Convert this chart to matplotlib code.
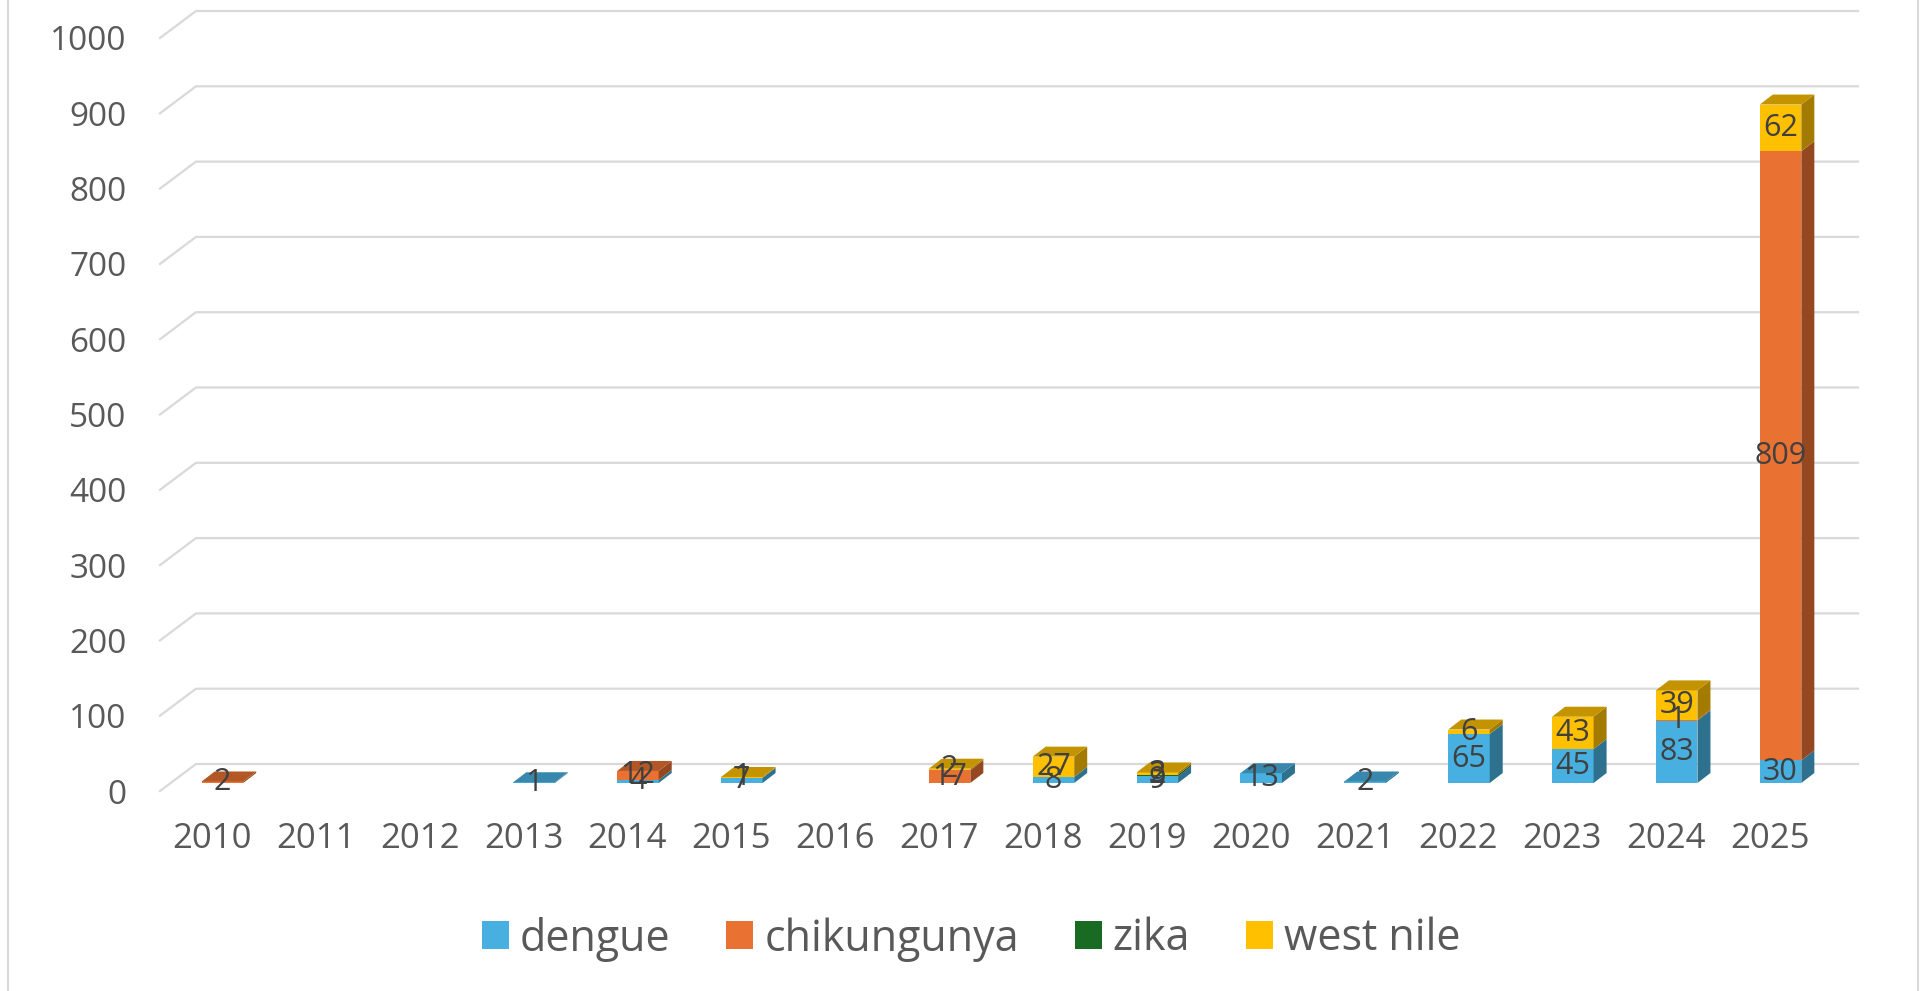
import numpy as np
import matplotlib
matplotlib.use("Agg")
import matplotlib.pyplot as plt
import matplotlib.colors as mcolors
import matplotlib.transforms as mtransforms
from matplotlib.patches import Polygon, Patch
from matplotlib.lines import Line2D

plt.rcParams["font.family"] = ["Open Sans", "DejaVu Sans"]

# yearly case counts per disease
years = [str(y) for y in range(2010, 2026)]
dengue = [0, 0, 0, 1, 4, 7, 0, 0, 8, 9, 13, 2, 65, 45, 83, 30]
chikungunya = [2, 0, 0, 0, 12, 0, 0, 17, 0, 0, 0, 0, 0, 0, 1, 809]
zika = [0, 0, 0, 0, 0, 0, 0, 0, 0, 2, 0, 0, 0, 0, 0, 0]
west_nile = [0, 0, 0, 0, 0, 1, 0, 2, 27, 3, 0, 0, 6, 43, 39, 62]

series_names = ["dengue", "chikungunya", "zika", "west nile"]
series_values = [dengue, chikungunya, zika, west_nile]
series_colors = ["#47B0E0", "#E97132", "#196B24", "#FFC000"]

W, H = 1923, 991
fig = plt.figure(figsize=(W / 100, H / 100), dpi=100)
ax = fig.add_axes([160 / W, 200 / H, 1662 / W, 753 / H])
ax.set_xlim(-0.5, 15.5)
ax.set_ylim(0, 1000)
ax.set_facecolor("none")
for sp in ax.spines.values():
    sp.set_visible(False)


def shade(c, f):
    return tuple(np.array(mcolors.to_rgb(c)) * f)


# pixel size of one data unit, used for the fake 3d depth
p0 = ax.transData.transform((0, 0))
p1 = ax.transData.transform((1, 1))
px_x, px_y = p1 - p0

# back wall (gridlines) and bar depth offsets in pixels
wall_dx, wall_dy = 36 / px_x, 27 / px_y
bar_dx, bar_dy = 13 / px_x, 10 / px_y
bar_tr = ax.transData + mtransforms.ScaledTranslation(10.5 / 100, 8 / 100, fig.dpi_scale_trans)

grid_color = "#D9D9D9"
for v in range(0, 1001, 100):
    ax.plot([-0.5, -0.5 + wall_dx, 15.5 + wall_dx], [v, v + wall_dy, v + wall_dy],
            color=grid_color, lw=1.6, clip_on=False, zorder=0)

x = np.arange(len(years))
w = 0.40
bottoms = np.zeros(len(years))
top_colors = [None] * len(years)

for name, vals, col in zip(series_names, series_values, series_colors):
    vals = np.array(vals)
    ax.bar(x, vals, w, bottom=bottoms, color=col, linewidth=0,
           transform=bar_tr, zorder=2)
    for i, v in enumerate(vals):
        if v <= 0:
            continue
        b = bottoms[i]
        xr = i + w / 2
        side = Polygon([(xr, b), (xr + bar_dx, b + bar_dy),
                        (xr + bar_dx, b + v + bar_dy), (xr, b + v)],
                       closed=True, facecolor=shade(col, 0.64), linewidth=0,
                       transform=bar_tr, zorder=2)
        ax.add_patch(side)
        top_colors[i] = col
    bottoms = bottoms + vals

# top faces of the stacks
for i, col in enumerate(top_colors):
    if col is None:
        continue
    t = bottoms[i]
    xl, xr = i - w / 2, i + w / 2
    top = Polygon([(xl, t), (xr, t), (xr + bar_dx, t + bar_dy), (xl + bar_dx, t + bar_dy)],
                  closed=True, facecolor=shade(col, 0.77), linewidth=0,
                  transform=bar_tr, zorder=2)
    ax.add_patch(top)

# value labels
bottoms = np.zeros(len(years))
for vals in series_values:
    for i, v in enumerate(vals):
        if v > 0:
            ax.text(i, bottoms[i] + v / 2, str(v), transform=bar_tr,
                    ha="center", va="center", fontsize=22, color="#404040", zorder=5)
    bottoms = bottoms + np.array(vals)

ax.set_yticks(np.arange(0, 1001, 100))
ax.set_xticks(x, years)
ax.tick_params(axis="both", length=0, colors="#595959")
ax.tick_params(axis="y", labelsize=24, pad=24)
ax.tick_params(axis="x", labelsize=25, pad=22)

handles = [Patch(facecolor=c, label=n) for n, c in zip(series_names, series_colors)]
fig.legend(handles=handles, loc="center", bbox_to_anchor=(0.505, 1 - 939 / H),
           ncol=4, frameon=False, fontsize=31, labelcolor="#595959",
           handlelength=0.63, handleheight=0.63, handletextpad=0.25,
           columnspacing=1.3)

# chart area border
for bx in (8, 1918):
    fig.add_artist(Line2D([bx / W, bx / W], [0, 1], color=grid_color, lw=1.5,
                          transform=fig.transFigure))

fig.savefig("out.png", dpi=100)
